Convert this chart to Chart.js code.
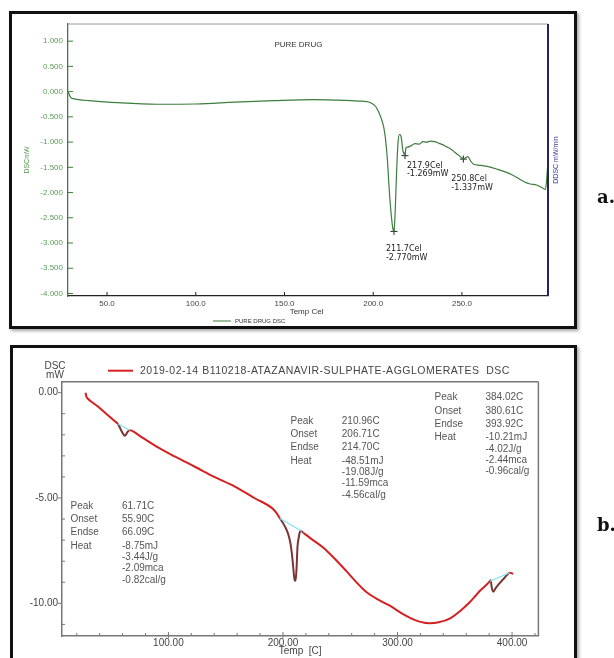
<!DOCTYPE html>
<html>
<head>
<meta charset="utf-8">
<script src="https://cdn.jsdelivr.net/npm/chart.js@4.4.0/dist/chart.umd.min.js"></script>
<style>
  body { margin: 0; width: 614px; height: 658px; background: #fff; position: relative; overflow: hidden; }
  .frame { position: absolute; border: 3px solid #111; box-sizing: border-box; box-shadow: 2px 2px 3px rgba(0,0,0,0.35); }
  #frameA { left: 9px; top: 11px; width: 568px; height: 318px; }
  #frameB { left: 10px; top: 345px; width: 567px; height: 330px; }
  canvas { position: absolute; left: 0; }
  #chartA { top: 0; }
  #chartB { top: 340px; }
  .tag { position: absolute; left: 597px; font: bold 18px "DejaVu Serif", "Liberation Serif", serif; color: #111; }
</style>
</head>
<body>
<div class="frame" id="frameA"></div>
<div class="frame" id="frameB"></div>
<canvas id="chartA" width="614" height="335"></canvas>
<canvas id="chartB" width="614" height="318"></canvas>
<div class="tag" style="top:186px">a.</div>
<div class="tag" style="top:514px">b.</div>
<script>
'use strict';

// ---- panel a: pure drug DSC ----
let aTemp = [28, 29.6, 31, 34, 40, 56, 78, 100, 122, 144, 166, 180, 188, 194, 197, 199.5, 201.5, 203, 204.8, 206,
  207, 208, 208.8, 209.8, 211, 211.7, 212.3, 212.8, 213.4, 214, 214.8, 215.5, 216, 216.6, 217.2, 217.9, 218.4, 219.3,
  221, 223.5, 226, 228, 230, 232.4, 234.6, 236.8, 239, 241.2, 243.4, 245.6, 247.8, 249.5, 250.8, 252, 253.3, 255,
  256.6, 260, 265.4, 270, 276.5, 281, 285.3, 288.5, 292, 295, 297, 297.6, 298.2];
let aDSC = [0.00, -0.12, -0.14, -0.16, -0.18, -0.22, -0.25, -0.245, -0.21, -0.18, -0.16, -0.17, -0.18, -0.19, -0.20,
  -0.24, -0.30, -0.40, -0.56, -0.72, -0.96, -1.35, -1.82, -2.30, -2.70, -2.77, -2.45, -1.95, -1.40, -1.00, -0.85,
  -0.87, -0.95, -1.15, -1.22, -1.27, -1.12, -1.10, -1.08, -1.03, -1.04, -0.99, -1.00, -0.98, -0.99, -1.02, -1.05,
  -1.09, -1.13, -1.19, -1.25, -1.30, -1.337, -1.31, -1.29, -1.38, -1.44, -1.46, -1.49, -1.54, -1.62, -1.70, -1.79,
  -1.83, -1.85, -1.90, -1.94, -1.80, -1.52];
let aPeakTemp = [211.7, 217.9, 250.8];
let aPeakDSC = [-2.770, -1.269, -1.337];
let aXTicks = [50, 100, 150, 200, 250];
let aYTicks = [1, 0.5, 0, -0.5, -1, -1.5, -2, -2.5, -3, -3.5, -4];

// ---- panel b: agglomerates DSC ----
let bTemp = [27.6, 28.5, 30, 34, 38.5, 44, 50, 53.8, 55.9, 58, 60, 61.7, 63, 64.5, 66.1, 68, 75, 89.7, 106, 123.9,
  140, 158, 175, 192.2, 197.4, 201.8, 204.5, 206.7, 208.3, 209.5, 210.3, 211, 211.8, 212.7, 213.7, 214.7, 215.4,
  217.8, 225, 235, 243.5, 255, 265, 272.5, 284, 294.7, 303, 311.8, 320, 328.2, 336, 346, 355, 363, 368, 372, 377,
  380.6, 381.2, 382.3, 383.5, 386, 389, 393.7, 398.1, 401];
let bDSC = [0.00, -0.20, -0.30, -0.48, -0.66, -0.92, -1.20, -1.38, -1.48, -1.70, -1.92, -2.04, -1.98, -1.85, -1.78,
  -1.80, -2.05, -2.56, -3.04, -3.54, -4.00, -4.46, -5.00, -5.57, -5.97, -6.36, -6.70, -7.20, -7.90, -8.60, -8.92,
  -8.93, -8.40, -7.31, -6.90, -6.62, -6.55, -6.65, -6.95, -7.35, -7.79, -8.45, -9.05, -9.45, -9.85, -10.16, -10.45,
  -10.71, -10.88, -10.95, -10.90, -10.71, -10.35, -9.95, -9.65, -9.40, -9.15, -8.95, -8.90, -9.25, -9.45, -9.25,
  -9.05, -8.77, -8.55, -8.60];
// integration baselines (start/end temp and DSC)
let bBaseTemp = [[55.9, 66.1], [197.4, 216.5], [380.6, 398.1]];
let bBaseDSC = [[-1.48, -1.78], [-5.97, -6.58], [-8.95, -8.55]];
let bPeakC = [61.71, 210.96, 384.02];
let bOnsetC = [55.90, 206.71, 380.61];
let bEndsetC = [66.09, 214.70, 393.92];
let bHeatMJ = [-8.75, -48.51, -10.21];
let bHeatJg = [-3.44, -19.08, -4.02];
let bHeatMcal = [-2.09, -11.59, -2.44];
let bHeatCalg = [-0.82, -4.56, -0.96];
let bXTicks = [100, 200, 300, 400];
let bXMinor = [20, 40, 60, 80, 120, 140, 160, 180, 220, 240, 260, 280, 320, 340, 360, 380, 420];
let bYTicks = [0, -5, -10];
let bYMinor = [-1, -2, -3, -4, -6, -7, -8, -9, -11];

Chart.defaults.font.family = '"Liberation Sans", Arial, sans-serif';

function line(ctx, x1, y1, x2, y2) {
  ctx.beginPath();
  ctx.moveTo(x1, y1);
  ctx.lineTo(x2, y2);
  ctx.stroke();
}

function vText(ctx, text, x, y) {
  ctx.save();
  ctx.translate(x, y);
  ctx.rotate(-Math.PI / 2);
  ctx.fillText(text, 0, 0);
  ctx.restore();
}

// extra drawing for panel a (box edges, inward ticks, titles, peak labels)
let aExtras = {
  id: 'aExtras',
  afterDraw(chart) {
    let ctx = chart.ctx;
    let ca = chart.chartArea;
    let xs = chart.scales.x;
    let ys = chart.scales.y;
    ctx.save();
    ctx.strokeStyle = '#9a9a9a';
    ctx.lineWidth = 1;
    line(ctx, ca.left, ca.top, ca.right, ca.top);
    ctx.strokeStyle = '#23235e';
    ctx.lineWidth = 2;
    line(ctx, ca.right, ca.top, ca.right, ca.bottom);
    ctx.lineWidth = 1;
    ctx.strokeStyle = '#3d7d3d';
    aYTicks.forEach(v => {
      let py = ys.getPixelForValue(v);
      line(ctx, ca.left, py, ca.left + 5, py);
    });
    ctx.strokeStyle = '#222';
    aXTicks.forEach(v => {
      let px = xs.getPixelForValue(v);
      line(ctx, px, ca.bottom, px, ca.bottom - 4);
    });

    ctx.textBaseline = 'middle';
    ctx.textAlign = 'center';
    ctx.fillStyle = '#333';
    ctx.font = '8px "Liberation Sans", Arial, sans-serif';
    ctx.fillText('PURE DRUG', ca.left + (ca.right - ca.left) * 0.48, 45);
    ctx.fillText('Temp Cel', ca.left + (ca.right - ca.left) * 0.497, 312);
    ctx.fillStyle = '#4f9a4f';
    ctx.font = '7px "Liberation Sans", Arial, sans-serif';
    vText(ctx, 'DSCmW', 27, (ca.top + ca.bottom) / 2);
    ctx.fillStyle = '#3a3a9a';
    vText(ctx, 'DDSC mW/min', ca.right + 8, (ca.top + ca.bottom) / 2);

    // legend
    ctx.strokeStyle = '#3d7d3d';
    line(ctx, 213, 321, 231, 321);
    ctx.fillStyle = '#333';
    ctx.font = '6px "Liberation Sans", Arial, sans-serif';
    ctx.textAlign = 'left';
    ctx.fillText('PURE DRUG DSC', 235, 321);

    // peak labels
    let offs = [[-8, 18], [2, 10], [-12, 20]];
    ctx.font = '8px "DejaVu Sans", sans-serif';
    ctx.fillStyle = '#222';
    aPeakTemp.forEach((t, i) => {
      let px = xs.getPixelForValue(t) + offs[i][0];
      let py = ys.getPixelForValue(aPeakDSC[i]) + offs[i][1];
      ctx.fillText(t.toFixed(1) + 'Cel', px, py);
      ctx.fillText(aPeakDSC[i].toFixed(3) + 'mW', px, py + 8.5);
    });
    ctx.restore();
  }
};

new Chart(document.getElementById('chartA'), {
  type: 'line',
  data: {
    datasets: [{
      data: aTemp.map((t, i) => ({x: t, y: aDSC[i]})),
      borderColor: '#3d7d3d',
      borderWidth: 1.2,
      pointRadius: 0,
      cubicInterpolationMode: 'monotone',
    }, {
      type: 'scatter',
      data: aPeakTemp.map((t, i) => ({x: t, y: aPeakDSC[i]})),
      pointStyle: 'cross',
      pointRadius: 3.5,
      borderColor: '#222',
      borderWidth: 1,
    }]
  },
  options: {
    responsive: false,
    animation: false,
    layout: {padding: {left: 0, top: 24, right: 66, bottom: 9}},
    plugins: {legend: {display: false}, tooltip: {enabled: false}},
    scales: {
      x: {
        type: 'linear',
        min: 28,
        max: 298.5,
        afterBuildTicks: s => { s.ticks = aXTicks.map(v => ({value: v})); },
        afterFit: s => { s.height = 30; },
        grid: {display: false, drawTicks: false},
        border: {display: true, color: '#222', width: 1.3},
        ticks: {padding: 3, color: '#444', maxRotation: 0, font: {size: 8}, callback: v => v.toFixed(1)}
      },
      y: {
        min: -4.05,
        max: 1.34,
        afterBuildTicks: s => { s.ticks = aYTicks.map(v => ({value: v})); },
        afterFit: s => { s.width = 68; },
        grid: {display: false, drawTicks: false},
        border: {display: true, color: '#3d7d3d', width: 1.3},
        ticks: {padding: 5, color: '#5a9a5a', font: {size: 8}, callback: v => v.toFixed(3)}
      }
    }
  },
  plugins: [aExtras]
});

// is this temperature inside one of the integrated peaks?
function inPeak(t) {
  return bBaseTemp.some(r => t >= r[0] && t < r[1]);
}

// extra drawing for panel b
let bExtras = {
  id: 'bExtras',
  afterDraw(chart) {
    let ctx = chart.ctx;
    let ca = chart.chartArea;
    let xs = chart.scales.x;
    let ys = chart.scales.y;
    ctx.save();
    ctx.strokeStyle = '#777';
    ctx.lineWidth = 1.5;
    line(ctx, ca.left, ca.top, ca.right, ca.top);
    line(ctx, ca.right, ca.top, ca.right, ca.bottom);
    ctx.lineWidth = 1;
    bYTicks.forEach(v => {
      let py = ys.getPixelForValue(v);
      line(ctx, ca.left - 4, py, ca.left, py);
    });
    bYMinor.forEach(v => {
      let py = ys.getPixelForValue(v);
      line(ctx, ca.left, py, ca.left + 3, py);
    });
    bXTicks.forEach(v => {
      let px = xs.getPixelForValue(v);
      line(ctx, px, ca.bottom + 2, px, ca.bottom - 4);
    });
    bXMinor.forEach(v => {
      let px = xs.getPixelForValue(v);
      line(ctx, px, ca.bottom, px, ca.bottom - 3);
    });

    ctx.fillStyle = '#444';
    ctx.font = '10px "Liberation Sans", Arial, sans-serif';
    ctx.textBaseline = 'middle';
    ctx.textAlign = 'center';
    ctx.fillText('DSC', 55, 26);
    ctx.fillText('mW', 55, 35);
    ctx.fillText('Temp  [C]', ca.left + (ca.right - ca.left) * 0.5, 311.5);

    // legend
    ctx.strokeStyle = '#d42020';
    ctx.lineWidth = 2;
    line(ctx, 108, 30.7, 133, 30.7);
    ctx.textAlign = 'left';
    ctx.fillStyle = '#444';
    ctx.save();
    ctx.font = '10.5px "Liberation Sans", Arial, sans-serif';
    ctx.letterSpacing = '0.5px';
    ctx.fillText('2019-02-14 B110218-ATAZANAVIR-SULPHATE-AGGLOMERATES  DSC', 140, 30.7);
    ctx.restore();

    // peak result blocks
    let blocks = [[70.5, 122, 166], [290.5, 341.8, 81], [434.6, 485.5, 57.7]];
    let rows = [0, 13.3, 26.6, 40, 51.3, 62.6, 73.9];
    ctx.fillStyle = '#555';
    blocks.forEach((b, i) => {
      let names = ['Peak', 'Onset', 'Endse', 'Heat'];
      let vals = [bPeakC[i].toFixed(2) + 'C', bOnsetC[i].toFixed(2) + 'C', bEndsetC[i].toFixed(2) + 'C',
        bHeatMJ[i].toFixed(2) + 'mJ', bHeatJg[i].toFixed(2) + 'J/g', bHeatMcal[i].toFixed(2) + 'mca',
        bHeatCalg[i].toFixed(2) + 'cal/g'];
      names.forEach((n, k) => ctx.fillText(n, b[0], b[2] + rows[k]));
      vals.forEach((v, k) => ctx.fillText(v, b[1], b[2] + rows[k]));
    });
    ctx.restore();
  }
};

let bSets = [{
  data: bTemp.map((t, i) => ({x: t, y: bDSC[i]})),
  borderColor: '#d42020',
  borderWidth: 2,
  pointRadius: 0,
  cubicInterpolationMode: 'monotone',
  segment: {borderColor: c => inPeak(c.p0.parsed.x) ? '#7a3434' : undefined},
  order: 1
}];
bBaseTemp.forEach((r, i) => {
  bSets.push({
    data: r.map((t, k) => ({x: t, y: bBaseDSC[i][k]})),
    borderColor: '#7fe0ee',
    borderWidth: 1.2,
    pointRadius: 0,
    order: 0
  });
});

new Chart(document.getElementById('chartB'), {
  type: 'line',
  data: {datasets: bSets},
  options: {
    responsive: false,
    animation: false,
    layout: {padding: {left: 0, top: 41.7, right: 75.6, bottom: 0}},
    plugins: {legend: {display: false}, tooltip: {enabled: false}},
    scales: {
      x: {
        type: 'linear',
        min: 7.1,
        max: 423,
        afterBuildTicks: s => { s.ticks = bXTicks.map(v => ({value: v})); },
        afterFit: s => { s.height = 22; },
        grid: {display: false, drawTicks: false},
        border: {display: true, color: '#777', width: 1.5},
        ticks: {padding: 1, color: '#444', maxRotation: 0, font: {size: 10}, callback: v => v.toFixed(2)}
      },
      y: {
        min: -11.55,
        max: 0.52,
        afterBuildTicks: s => { s.ticks = bYTicks.map(v => ({value: v})); },
        afterFit: s => { s.width = 62; },
        grid: {display: false, drawTicks: false},
        border: {display: true, color: '#777', width: 1.5},
        ticks: {padding: 4, color: '#444', font: {size: 10}, callback: v => v.toFixed(2)}
      }
    }
  },
  plugins: [bExtras]
});
</script>
</body>
</html>
